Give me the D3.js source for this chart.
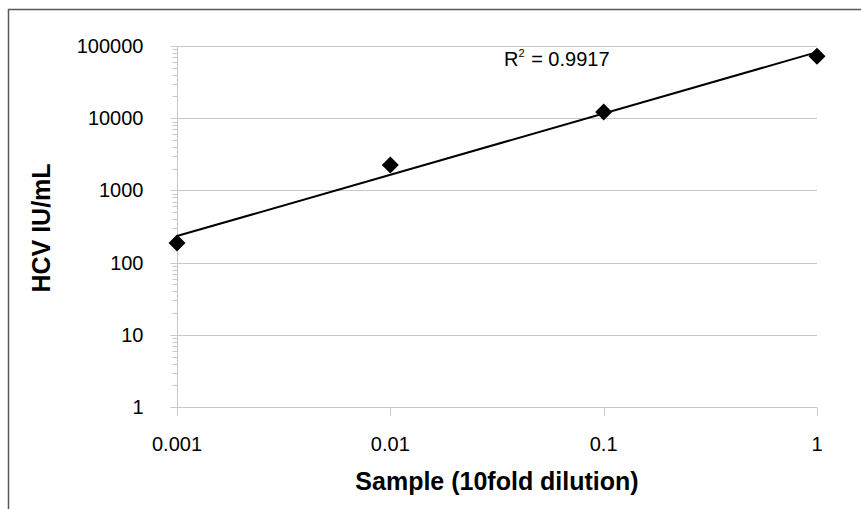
<!DOCTYPE html>
<meta charset="utf-8">
<style>
body { margin: 0; background: #fff; }
text { font-family: "Liberation Sans", Arial, sans-serif; fill: #000; }
.tick-label { font-size: 20px; }
.axis-title { font-size: 25px; font-weight: bold; }
</style>
<svg width="861" height="509"></svg>
<script src="https://d3js.org/d3.v7.min.js"></script>
<script>

// sample dilution vs measured HCV IU/mL
const dilutions = [0.001, 0.01, 0.1, 1];
const hcvValues = [187, 2240, 12200, 72000];
const xTicks = [0.001, 0.01, 0.1, 1];
const yTicks = [1, 10, 100, 1000, 10000, 100000];

const svg = d3.select('svg');
const margin = {left: 177, right: 44, top: 46, bottom: 102};
const width = +svg.attr('width');
const height = +svg.attr('height');

// outer frame (only top and left edges visible)
svg.append('path')
    .attr('d', 'M8.5,' + height + 'V9.5H' + width)
    .attr('fill', 'none')
    .attr('stroke', '#595959')
    .attr('stroke-width', 1.5);

const x = d3.scaleLog().domain([0.001, 1]).range([margin.left, width - margin.right]);
const y = d3.scaleLog().domain([1, 100000]).range([height - margin.bottom, margin.top]);

const grid = '#c8c8c8';

// horizontal gridlines
svg.append('g').selectAll('line')
  .data(yTicks.slice(1))
  .join('line')
    .attr('x1', x.range()[0]).attr('x2', x.range()[1])
    .attr('y1', d => Math.round(y(d)) + 0.5).attr('y2', d => Math.round(y(d)) + 0.5)
    .attr('stroke', grid);

// y axis with minor ticks
const yAxis = svg.append('g').attr('transform', 'translate(' + (margin.left + 0.5) + ',0)');
yAxis.append('line')
    .attr('y1', y(1)).attr('y2', y(100000))
    .attr('stroke', grid);
let minor = [];
yTicks.slice(0, -1).forEach(t => { for (let k = 2; k < 10; k++) minor.push(t * k); });
yAxis.selectAll('.minor')
  .data(minor)
  .join('line')
    .attr('class', 'minor')
    .attr('x1', -5).attr('x2', 0)
    .attr('y1', d => Math.round(y(d)) + 0.5).attr('y2', d => Math.round(y(d)) + 0.5)
    .attr('stroke', grid);
yAxis.selectAll('.major')
  .data(yTicks)
  .join('line')
    .attr('class', 'major')
    .attr('x1', -7).attr('x2', 0)
    .attr('y1', d => Math.round(y(d)) + 0.5).attr('y2', d => Math.round(y(d)) + 0.5)
    .attr('stroke', grid);
yAxis.selectAll('text')
  .data(yTicks)
  .join('text')
    .attr('class', 'tick-label')
    .attr('x', -34)
    .attr('y', d => y(d))
    .attr('dy', '0.35em')
    .attr('text-anchor', 'end')
    .text(d => d3.format('d')(d));

// x axis
const xAxis = svg.append('g').attr('transform', 'translate(0,' + (Math.round(y(1)) + 0.5) + ')');
xAxis.append('line')
    .attr('x1', x.range()[0]).attr('x2', x.range()[1])
    .attr('stroke', grid);
xAxis.selectAll('.major')
  .data(xTicks)
  .join('line')
    .attr('class', 'major')
    .attr('x1', d => Math.round(x(d)) + 0.5).attr('x2', d => Math.round(x(d)) + 0.5)
    .attr('y1', 0).attr('y2', 8)
    .attr('stroke', grid);
xAxis.selectAll('text')
  .data(xTicks)
  .join('text')
    .attr('class', 'tick-label')
    .attr('x', d => x(d))
    .attr('y', 43)
    .attr('text-anchor', 'middle')
    .text(d => String(d));

// power trendline: least squares in log-log space
const lx = dilutions.map(Math.log10), ly = hcvValues.map(Math.log10);
const mx = d3.mean(lx), my = d3.mean(ly);
const slope = d3.sum(lx, (v, i) => (v - mx) * (ly[i] - my)) / d3.sum(lx, v => (v - mx) * (v - mx));
const icpt = my - slope * mx;
const fit = v => Math.pow(10, icpt + slope * Math.log10(v));

svg.append('line')
    .attr('x1', x(0.001)).attr('y1', y(fit(0.001)))
    .attr('x2', x(1)).attr('y2', y(fit(1)))
    .attr('stroke', '#000')
    .attr('stroke-width', 2);

// diamond markers
const r = 8.5;
svg.append('g').selectAll('path')
  .data(dilutions)
  .join('path')
    .attr('transform', (d, i) => 'translate(' + x(d) + ',' + y(hcvValues[i]) + ')')
    .attr('d', 'M0,' + (-r) + 'L' + r + ',0L0,' + r + 'L' + (-r) + ',0Z')
    .attr('fill', '#000');

// R squared label
const r2 = svg.append('text')
    .attr('x', 504)
    .attr('y', 66)
    .style('font-size', '20px');
r2.append('tspan').text('R');
r2.append('tspan').attr('dy', -9).style('font-size', '11px').text('2');
r2.append('tspan').attr('dy', 9).attr('dx', 1).text(' = 0.9917');

// axis titles
svg.append('text')
    .attr('class', 'axis-title')
    .attr('x', 497)
    .attr('y', 490)
    .attr('text-anchor', 'middle')
    .text('Sample (10fold dilution)');

svg.append('text')
    .attr('class', 'axis-title')
    .attr('transform', 'translate(50,228) rotate(-90)')
    .attr('text-anchor', 'middle')
    .text('HCV IU/mL');

</script>
